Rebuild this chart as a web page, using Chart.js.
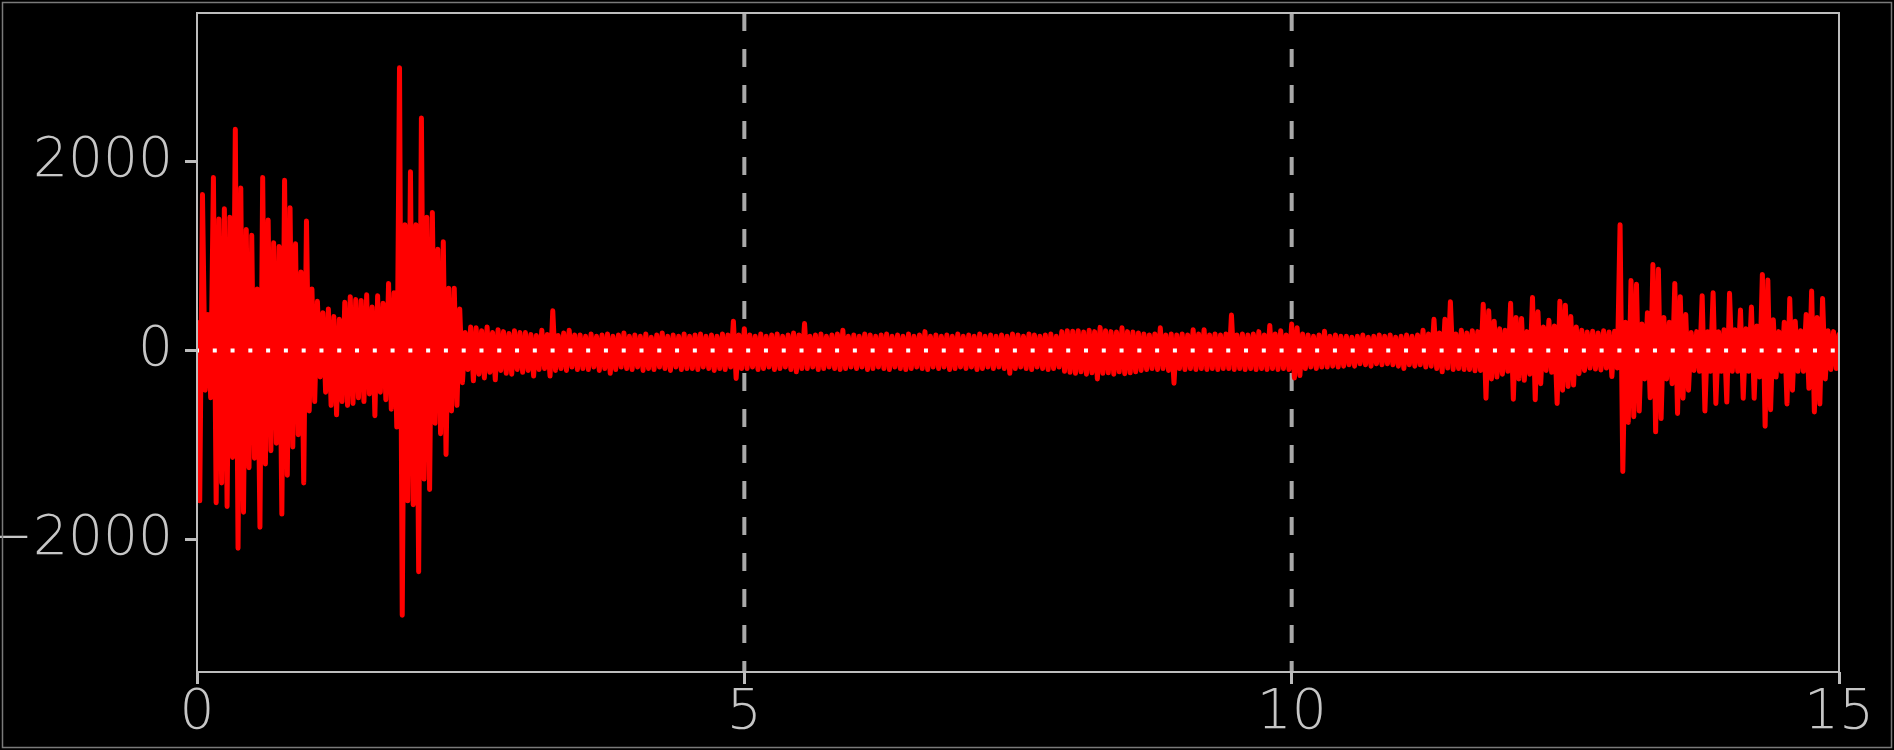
<!DOCTYPE html>
<html>
<head>
<meta charset="utf-8">
<script src="https://cdn.jsdelivr.net/npm/chart.js@4.4.1/dist/chart.umd.min.js"></script>
<style>
  html, body { margin: 0; padding: 0; background: #000; overflow: hidden; }
  #wrap { width: 1894px; height: 750px; position: relative; }
  canvas { display: block; }
</style>
</head>
<body>
<div id="wrap"><canvas id="c" width="1894" height="750"></canvas></div>
<script>
// ---------------- data ----------------
const SAMPLE_STEP = 0.025;           // seconds between samples
const signalValues = [
  300, -1590, 1650, -420, 380, -500, 1830, -1610, 1390, -1400, 1500, -1650, 1410, -1130, 2340, -2090, 1720, -1710, 1280, -1240,
  1220, -1140, 650, -1870, 1830, -1200, 1380, -1060, 1140, -980, 1100, -1730, 1800, -1320, 1510, -1020, 1130, -890, 830, -1400,
  1370, -640, 650, -540, 520, -280, 400, -440, 440, -580, 360, -680, 330, -540, 510, -580, 570, -560, 540, -500,
  530, -540, 590, -460, 460, -690, 580, -440, 500, -520, 710, -620, 610, -810, 2990, -2800, 1330, -1590, 1890, -1630,
  1330, -2340, 2460, -1360, 1410, -1470, 1460, -770, 1070, -880, 1150, -1100, 660, -640, 660, -580, 440, -340, 190, -200,
  250, -320, 240, -250, 210, -290, 250, -230, 190, -310, 220, -210, 200, -240, 180, -250, 210, -200, 190, -230,
  190, -210, 170, -270, 160, -200, 215, -190, 170, -270, 420, -210, 160, -190, 185, -210, 215, -175, 165, -200,
  165, -190, 150, -200, 175, -175, 150, -210, 165, -190, 175, -240, 150, -200, 165, -175, 185, -190, 150, -200,
  165, -175, 150, -210, 175, -190, 140, -200, 165, -175, 185, -190, 150, -210, 165, -175, 150, -200, 175, -190,
  150, -190, 165, -200, 175, -175, 150, -190, 165, -210, 150, -190, 175, -200, 165, -175, 310, -295, 165, -190,
  230, -190, 165, -175, 150, -200, 175, -190, 150, -175, 165, -200, 175, -190, 150, -175, 165, -200, 185, -225,
  165, -190, 285, -190, 150, -175, 165, -200, 175, -190, 150, -175, 165, -190, 175, -200, 215, -190, 150, -175,
  165, -190, 150, -175, 175, -200, 165, -190, 150, -175, 165, -190, 175, -200, 150, -175, 165, -190, 150, -200,
  175, -190, 150, -175, 165, -190, 200, -200, 150, -175, 165, -190, 150, -175, 165, -200, 150, -190, 175, -175,
  150, -190, 165, -175, 150, -200, 175, -190, 150, -175, 165, -190, 150, -175, 165, -190, 150, -240, 175, -190,
  165, -175, 150, -190, 175, -200, 165, -175, 150, -190, 165, -200, 175, -190, 150, -175, 200, -220, 210, -230,
  205, -240, 210, -225, 195, -250, 215, -235, 200, -300, 245, -240, 210, -235, 200, -250, 195, -225, 240, -245,
  200, -235, 195, -225, 185, -210, 175, -200, 165, -190, 175, -200, 240, -190, 165, -210, 175, -345, 165, -190,
  175, -200, 165, -190, 220, -200, 175, -190, 220, -200, 165, -190, 175, -200, 165, -190, 175, -190, 375, -200,
  165, -190, 175, -200, 165, -190, 175, -200, 200, -190, 165, -200, 265, -190, 175, -200, 210, -190, 165, -200,
  280, -290, 240, -265, 175, -190, 165, -175, 150, -190, 165, -175, 205, -175, 150, -165, 165, -175, 150, -165,
  150, -150, 140, -165, 150, -140, 165, -150, 140, -165, 150, -140, 165, -150, 150, -140, 165, -150, 140, -165,
  150, -190, 165, -150, 150, -165, 165, -150, 215, -175, 175, -165, 330, -190, 185, -225, 330, -185, 515, -200,
  175, -190, 215, -200, 185, -200, 210, -215, 200, -210, 490, -505, 420, -300, 310, -280, 230, -250, 215, -220,
  500, -515, 350, -300, 340, -315, 200, -250, 560, -520, 410, -350, 250, -210, 320, -230, 260, -560, 520, -420,
  480, -380, 360, -365, 250, -245, 215, -210, 195, -185, 205, -195, 185, -205, 210, -185, 195, -275, 205, -185,
  1330, -1280, 300, -760, 740, -700, 700, -640, 280, -300, 400, -500, 910, -860, 860, -720, 350, -300, 300, -350,
  710, -665, 570, -505, 380, -420, 190, -210, 200, -220, 580, -640, 200, -220, 610, -560, 200, -220, 220, -545,
  605, -220, 220, -220, 430, -505, 230, -220, 460, -505, 260, -280, 805, -800, 745, -625, 325, -280, 200, -220,
  300, -565, 550, -420, 310, -220, 210, -220, 380, -400, 630, -650, 350, -565, 550, -300, 210, -200, 200, -190,
  170
];
const xTickValues = [0, 5, 10, 15];
const xTickLabels = ['0', '5', '10', '15'];
const yTickValues = [-2000, 0, 2000];
const yTickLabels = ['\u22122000', '0', '2000'];
const markerTimes = [5, 10];        // dashed vertical lines
const baselineValue = 0;            // dotted horizontal line
const xLimits = [0, 15];
const yLimits = [-3400, 3570];

// ---------------- build ----------------
const signalPoints = signalValues.map((v, i) => ({ x: i * SAMPLE_STEP, y: v }));

const FRAME = '#bdbdbd';
const TEXT = '#c6c6c6';
const tickFont = { family: "'DejaVu Sans ExtraLight', 'DejaVu Sans', sans-serif", size: 55, weight: '200', lineHeight: 1 };

const datasets = [
  {
    label: 'baseline',
    data: [{ x: xLimits[0], y: baselineValue }, { x: xLimits[1], y: baselineValue }],
    borderColor: '#ffffff', borderWidth: 4, borderDash: [4, 13.78], borderDashOffset: 2,
    borderCapStyle: 'butt', pointRadius: 0, order: 0
  },
  {
    label: 'signal',
    data: signalPoints,
    borderColor: '#ff0000', borderWidth: 5, pointRadius: 0, tension: 0,
    borderJoinStyle: 'round', borderCapStyle: 'round', order: 1
  }
];
markerTimes.forEach(t => datasets.push({
  label: 'marker' + t,
  data: [{ x: t, y: yLimits[1] }, { x: t, y: yLimits[0] }],
  borderColor: '#a9a9a9', borderWidth: 4, borderDash: [18, 18], borderCapStyle: 'butt',
  pointRadius: 0, order: 2
}));

const framePlugin = {
  id: 'frame',
  beforeDraw(chart) {
    const ctx = chart.ctx;
    ctx.save();
    ctx.fillStyle = '#000';
    ctx.fillRect(0, 0, chart.width, chart.height);
    ctx.restore();
  },
  afterDatasetsDraw(chart) {
    const { ctx, chartArea: a } = chart;
    ctx.save();
    ctx.strokeStyle = FRAME;
    ctx.lineWidth = 2;
    ctx.strokeRect(a.left, a.top, a.right - a.left, a.bottom - a.top);
    ctx.restore();
  },
  afterDraw(chart) {
    const ctx = chart.ctx;
    ctx.save();
    ctx.strokeStyle = '#7a7a7a';
    ctx.lineWidth = 1.5;
    ctx.strokeRect(2.5, 2.5, chart.width - 5, chart.height - 5);
    ctx.restore();
  }
};

new Chart(document.getElementById('c'), {
  type: 'line',
  data: { datasets },
  options: {
    responsive: false,
    animation: false,
    devicePixelRatio: 1,
    layout: { padding: { left: 0, right: 55, top: 13, bottom: 0 } },
    plugins: { legend: { display: false }, tooltip: { enabled: false } },
    scales: {
      x: {
        type: 'linear', min: xLimits[0], max: xLimits[1],
        afterBuildTicks: s => { s.ticks = xTickValues.map(v => ({ value: v })); },
        afterFit: s => { s.height = 78; s.paddingLeft = 0; s.paddingRight = 0; },
        ticks: {
          autoSkip: false, maxRotation: 0, padding: 2, color: TEXT, font: tickFont,
          callback: v => xTickLabels[xTickValues.indexOf(v)]
        },
        grid: { display: true, drawOnChartArea: false, drawTicks: true, tickLength: 12, tickWidth: 3, tickColor: FRAME },
        border: { display: false }
      },
      y: {
        type: 'linear', min: yLimits[0], max: yLimits[1],
        afterBuildTicks: s => { s.ticks = yTickValues.map(v => ({ value: v })); },
        afterFit: s => { s.width = 197; s.paddingTop = 0; s.paddingBottom = 0; },
        ticks: {
          autoSkip: false, padding: 12, color: TEXT, font: tickFont,
          callback: v => yTickLabels[yTickValues.indexOf(v)]
        },
        grid: { display: true, drawOnChartArea: false, drawTicks: true, tickLength: 12, tickWidth: 3, tickColor: FRAME },
        border: { display: false }
      }
    }
  },
  plugins: [framePlugin]
});
</script>
</body>
</html>
